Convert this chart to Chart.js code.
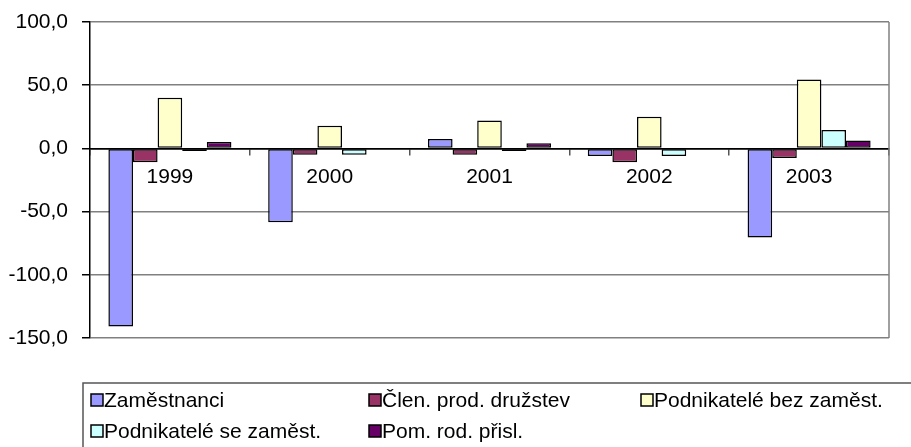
<html lang="cs">
<head>
    <meta charset="UTF-8">
    <title>Zaměstnanost</title>
    <script src="https://cdn.jsdelivr.net/npm/chart.js"></script>
    <style>
        html, body { margin: 0; padding: 0; background: #fff; }
        #wrap { width: 911px; height: 447px; }
    </style>
</head>
<body>
    <div id="wrap"><canvas id="chart" width="911" height="447"></canvas></div>

    <script>
        const years = ['1999', '2000', '2001', '2002', '2003'];
        const seriesNames = ['Zaměstnanci', 'Člen. prod. družstev', 'Podnikatelé bez zaměst.', 'Podnikatelé se zaměst.', 'Pom. rod. přisl.'];
        const zamestnanci = [-141, -58.5, 7.4, -6, -70.5];
        const clenDruzstev = [-11, -5, -5, -11, -7.5];
        const podnikBez = [40, 18, 22, 25, 54.5];
        const podnikSe = [-2, -5, -2, -6, 14.5];
        const pomRod = [5, 0, 4, -0.8, 6.3];
        const yTicks = [100, 50, 0, -50, -100, -150];
        const colors = ['#9999FF', '#993366', '#FFFFCC', '#CCFFFF', '#660066'];

        const FONT = 'Liberation Sans, Arial, sans-serif';

        const allSeries = [zamestnanci, clenDruzstev, podnikBez, podnikSe, pomRod];
        const datasets = allSeries.map((d, i) => ({
            label: seriesNames[i],
            data: d,
            backgroundColor: colors[i],
            borderColor: '#000',
            borderWidth: 1.5,
            borderSkipped: false,
            categoryPercentage: 0.77,
            barPercentage: 1.0
        }));

        // right border of the plot + the legend box at the bottom
        const frameAndLegend = {
            id: 'frameAndLegend',
            afterDraw(chart) {
                const ctx = chart.ctx;
                const a = chart.chartArea;
                ctx.save();
                ctx.strokeStyle = '#808080';
                ctx.lineWidth = 1.5;
                ctx.beginPath();
                ctx.moveTo(a.right, a.top);
                ctx.lineTo(a.right, a.bottom);
                ctx.stroke();

                // legend frame
                ctx.strokeStyle = '#555';
                ctx.lineWidth = 1.5;
                ctx.strokeRect(83, 383, 840, 80);

                const colX = [91, 369, 641];
                const rowY = [400, 431];
                ctx.font = '21px ' + FONT;
                ctx.textBaseline = 'middle';
                chart.data.datasets.forEach((ds, i) => {
                    const x = colX[i % 3];
                    const y = rowY[Math.floor(i / 3)];
                    ctx.fillStyle = ds.backgroundColor;
                    ctx.fillRect(x, y - 6, 12, 12);
                    ctx.strokeStyle = '#000';
                    ctx.lineWidth = 1.5;
                    ctx.strokeRect(x, y - 6, 12, 12);
                    ctx.fillStyle = '#000';
                    ctx.fillText(ds.label, x + 13, y + 1);
                });
                ctx.restore();
            }
        };

        new Chart(document.getElementById('chart'), {
            type: 'bar',
            data: { labels: years, datasets: datasets },
            plugins: [frameAndLegend],
            options: {
                responsive: false,
                animation: false,
                layout: { padding: { top: 22, right: 22, bottom: 109, left: 0 } },
                plugins: {
                    legend: { display: false },
                    tooltip: { enabled: false }
                },
                scales: {
                    x: {
                        position: { y: 0 },
                        afterFit(scale) {
                            scale.height = 0;
                            scale.paddingTop = 0;
                            scale.paddingBottom = 0;
                        },
                        grid: {
                            display: true,
                            drawOnChartArea: false,
                            drawTicks: true,
                            tickLength: 6,
                            offset: true,
                            color: '#555',
                            lineWidth: 1.5
                        },
                        border: { display: true, color: '#000', width: 1.5 },
                        ticks: {
                            color: '#000',
                            font: { family: FONT, size: 21 },
                            padding: 10,
                            maxRotation: 0
                        }
                    },
                    y: {
                        min: -150,
                        max: 100,
                        afterFit(scale) {
                            scale.width = 90;
                            scale.paddingTop = 0;
                            scale.paddingBottom = 0;
                        },
                        afterBuildTicks(scale) {
                            scale.ticks = yTicks.map(v => ({ value: v }));
                        },
                        grid: {
                            color: ctx => (ctx.tick && ctx.tick.value === 0) ? '#000' : '#808080',
                            lineWidth: 1.5,
                            drawTicks: true,
                            tickLength: 8,
                            tickColor: '#000'
                        },
                        border: { display: true, color: '#000', width: 1.5 },
                        ticks: {
                            color: '#000',
                            font: { family: FONT, size: 21 },
                            padding: 14,
                            callback: v => v.toFixed(1).replace('.', ',')
                        }
                    }
                }
            }
        });
    </script>
</body>
</html>
